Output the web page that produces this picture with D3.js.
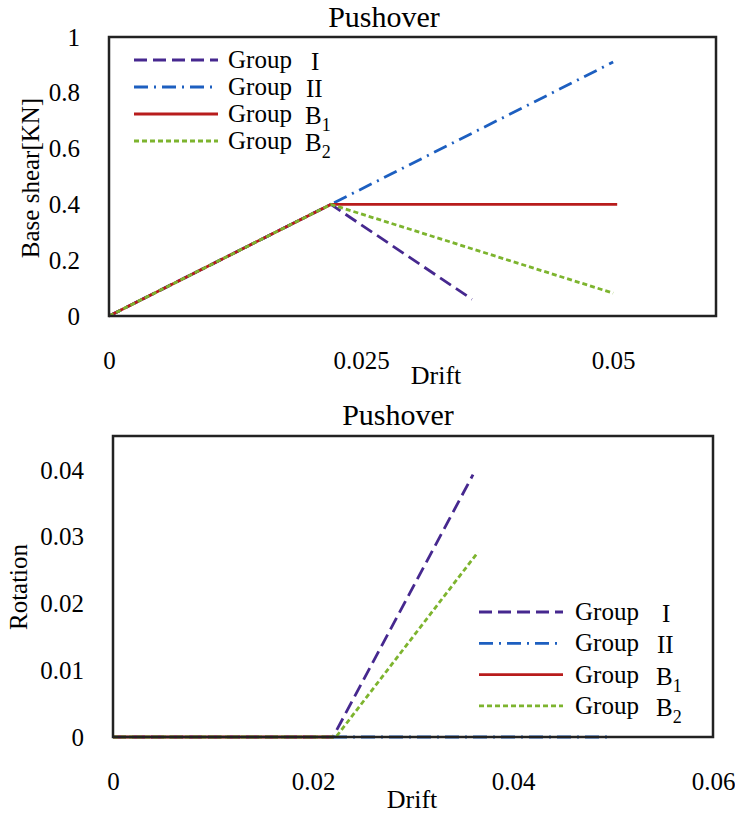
<!DOCTYPE html>
<html>
<head>
<meta charset="utf-8">
<script src="https://cdn.jsdelivr.net/npm/d3@7"></script>
<style>
  body { margin: 0; background: #fff; }
  text { font-family: 'Liberation Serif', 'Times New Roman', serif; fill: #000; }
</style>
</head>
<body>
<div id="chart"></div>
<script>
// series names shared by both panels
const groups = ['I', 'II', 'B1', 'B2'];

// top panel: drift vs base shear
const shearTicksY = [0, 0.2, 0.4, 0.6, 0.8, 1];
const shearTicksX = [0, 0.025, 0.05];
const shearGroupI = [[0, 0], [0.022, 0.4], [0.036, 0.06]];
const shearGroupII = [[0, 0], [0.022, 0.4], [0.05, 0.91]];
const shearGroupB1 = [[0, 0], [0.022, 0.4], [0.0504, 0.4]];
const shearGroupB2 = [[0, 0], [0.022, 0.4], [0.05, 0.082]];

// bottom panel: drift vs rotation
const rotTicksY = [0, 0.01, 0.02, 0.03, 0.04];
const rotTicksX = [0, 0.02, 0.04, 0.06];
const rotGroupI = [[0, 0], [0.022, 0], [0.036, 0.0393]];
const rotGroupII = [[0.022, 0], [0.0495, 0]];
const rotGroupB1 = [[0, 0], [0.022, 0]];
const rotGroupB2 = [[0, 0], [0.0223, 0], [0.0365, 0.0277]];

const styles = {
  I: { color: '#46288f', dash: '13,6', label: 'I', dx: 6 },
  II: { color: '#1d5fc0', dash: '14,6,2,6', label: 'II', dx: 1 },
  B1: { color: '#b81c1c', dash: null, label: 'B', sub: '1', dx: 0 },
  B2: { color: '#7db42e', dash: '5,3', label: 'B', sub: '2', dx: 0 },
};

const svg = d3
  .select('#chart')
  .append('svg')
  .attr('width', 735)
  .attr('height', 813);

svg.append('rect').attr('width', 735).attr('height', 813).attr('fill', '#fff');

function drawPanel(cfg) {
  const x = d3.scaleLinear().domain(cfg.xDomain).range([cfg.left, cfg.right]);
  const y = d3.scaleLinear().domain(cfg.yDomain).range([cfg.bottom, cfg.top]);

  // title
  svg
    .append('text')
    .attr('x', cfg.titleX)
    .attr('y', cfg.titleY)
    .attr('text-anchor', 'middle')
    .attr('font-size', 30)
    .text('Pushover');

  // y axis ticks (no tick marks, just labels)
  const yAxis = svg
    .append('g')
    .attr('transform', `translate(${cfg.left},0)`)
    .call(
      d3.axisLeft(y).tickValues(cfg.yTicks).tickSize(0).tickPadding(cfg.yPad).tickFormat((d) => String(d))
    );
  yAxis.select('.domain').remove();
  yAxis.selectAll('text').attr('font-size', 25).attr('font-family', 'Liberation Serif');

  const xAxis = svg
    .append('g')
    .attr('transform', `translate(0,${cfg.bottom})`)
    .call(
      d3.axisBottom(x).tickValues(cfg.xTicks).tickSize(0).tickPadding(cfg.xPad).tickFormat((d) => String(d))
    );
  xAxis.select('.domain').remove();
  xAxis.selectAll('text').attr('font-size', 25).attr('font-family', 'Liberation Serif');

  // axis labels
  svg
    .append('text')
    .attr('x', cfg.xLabelX)
    .attr('y', cfg.xLabelY)
    .attr('text-anchor', 'middle')
    .attr('font-size', 26)
    .text('Drift');

  svg
    .append('text')
    .attr('transform', `translate(${cfg.yLabelX},${cfg.yLabelY}) rotate(-90)`)
    .attr('text-anchor', 'middle')
    .attr('font-size', 25)
    .text(cfg.yLabel);

  // series
  const line = d3
    .line()
    .x((d) => x(d[0]))
    .y((d) => y(d[1]));

  cfg.series.forEach((s) => {
    const st = styles[s.key];
    svg
      .append('path')
      .datum(s.data)
      .attr('fill', 'none')
      .attr('stroke', st.color)
      .attr('stroke-width', 2.8)
      .attr('stroke-dasharray', st.dash)
      .attr('d', line);
  });

  // plot frame
  svg
    .append('rect')
    .attr('x', x.range()[0])
    .attr('y', y.range()[1])
    .attr('width', x.range()[1] - x.range()[0])
    .attr('height', y.range()[0] - y.range()[1])
    .attr('fill', 'none')
    .attr('stroke', '#222')
    .attr('stroke-width', 2.5);

  // legend
  const legend = svg
    .append('g')
    .attr('transform', `translate(${cfg.legendX},${cfg.legendY})`);

  const item = legend
    .selectAll('.legend-item')
    .data(groups)
    .enter()
    .append('g')
    .attr('class', 'legend-item')
    .attr('transform', (d, i) => `translate(0, ${i * cfg.legendStep})`);

  item
    .append('line')
    .attr('x1', 0)
    .attr('x2', 84)
    .attr('y1', 0)
    .attr('y2', 0)
    .attr('stroke', (d) => styles[d].color)
    .attr('stroke-width', 2.8)
    .attr('stroke-dasharray', (d) => styles[d].dash);

  item
    .append('text')
    .attr('x', cfg.groupX)
    .attr('y', 8)
    .attr('font-size', 25)
    .text('Group');

  const sym = item
    .append('text')
    .attr('x', (d) => cfg.symX + styles[d].dx)
    .attr('y', 10)
    .attr('font-size', 25);
  sym.append('tspan').text((d) => styles[d].label);
  sym
    .append('tspan')
    .attr('dy', 7)
    .attr('font-size', 18)
    .text((d) => styles[d].sub || '');
}

drawPanel({
  left: 109, right: 716, top: 37, bottom: 316,
  xDomain: [0, 0.0602], yDomain: [0, 1],
  xTicks: shearTicksX, yTicks: shearTicksY,
  yPad: 29, xPad: 35,
  titleX: 384, titleY: 27,
  xLabelX: 436, xLabelY: 384,
  yLabelX: 39, yLabelY: 178, yLabel: 'Base shear[KN]',
  legendX: 134, legendY: 60, legendStep: 27,
  groupX: 94, symX: 171,
  series: [
    { key: 'I', data: shearGroupI },
    { key: 'II', data: shearGroupII },
    { key: 'B1', data: shearGroupB1 },
    { key: 'B2', data: shearGroupB2 },
  ],
});

drawPanel({
  left: 113, right: 713, top: 436, bottom: 737,
  xDomain: [0, 0.06], yDomain: [0, 0.0451],
  xTicks: rotTicksX, yTicks: rotTicksY,
  yPad: 29, xPad: 35,
  titleX: 398, titleY: 425,
  xLabelX: 412, xLabelY: 808,
  yLabelX: 27, yLabelY: 587, yLabel: 'Rotation',
  legendX: 479, legendY: 612, legendStep: 31.3,
  groupX: 96, symX: 177,
  series: [
    { key: 'I', data: rotGroupI },
    { key: 'II', data: rotGroupII },
    { key: 'B1', data: rotGroupB1 },
    { key: 'B2', data: rotGroupB2 },
  ],
});
</script>
</body>
</html>
